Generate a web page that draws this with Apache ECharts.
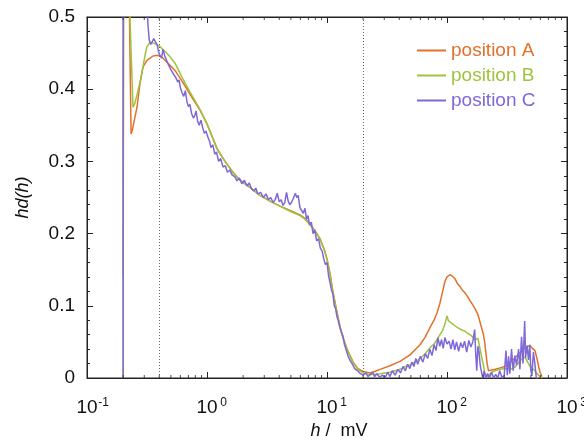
<!DOCTYPE html>
<html>
<head>
<meta charset="utf-8">
<script src="https://cdn.jsdelivr.net/npm/echarts@6/dist/echarts.min.js"></script>
<style>html,body{margin:0;padding:0;background:#fff}#c{width:584px;height:441px}</style>
</head>
<body>
<div id="c"></div>
<script>
const seriesNames = ['position A', 'position B', 'position C'];
const seriesColors = ['#E2712C', '#9DC43E', '#7F68D8'];
const refLines = [0.4, 20];

const posA = [
[0.2,0.14],[0.203,0.85],[0.218,0.85],[0.226,0.5],[0.233,0.338],[0.24,0.345],[0.25,0.36],[0.261,0.375],[0.2765,0.408],[0.293,0.431],[0.316,0.44],[0.335,0.443],[0.355,0.446],[0.39,0.447],[0.406,0.446],[0.43,0.443],[0.473,0.436],[0.492,0.433],[0.541,0.426],[0.631,0.409],[0.722,0.393],[0.874,0.371],[1.0,0.352],[1.212,0.318],[1.413,0.3],[1.647,0.285],[1.884,0.274],[2.28,0.264],[2.765,0.253],[3.35,0.245],[4.06,0.238],[4.92,0.232],[5.96,0.226],[6.56,0.221],[7.22,0.213],[7.94,0.204],[8.74,0.193],[9.5,0.178],[10,0.165],[10.6,0.145],[11.2,0.12],[12.1,0.092],[12.8,0.072],[13.6,0.056],[14.7,0.04],[16.5,0.022],[18.1,0.013],[20,0.009],[22.8,0.007],[25,0.009],[27.7,0.012],[33.5,0.017],[40.6,0.023],[49.2,0.032],[59.6,0.046],[66,0.057],[72.2,0.07],[78,0.08],[82.5,0.09],[87.4,0.104],[92,0.12],[96.2,0.134],[100,0.14],[106,0.143],[111,0.141],[117,0.137],[122,0.131],[128,0.127],[134,0.122],[141,0.118],[148,0.113],[155.5,0.107],[163,0.102],[171,0.096],[181,0.088],[188,0.078],[200,0.062],[206,0.05],[211,0.034],[216,0.02],[222,0.01],[230,0.008],[251,0.012],[277,0.014],[304,0.016],[335,0.021],[369,0.028],[406,0.035],[447,0.042],[470,0.044],[492,0.045],[515,0.041],[541,0.038],[562,0.027],[580,0.016],[596,0.008],[620,0.002]
];
const posB = [
[0.2,0],[0.202,0.85],[0.22,0.85],[0.228,0.5],[0.2416,0.375],[0.25,0.38],[0.261,0.392],[0.2765,0.41],[0.293,0.431],[0.305,0.448],[0.316,0.459],[0.335,0.465],[0.355,0.464],[0.38,0.462],[0.406,0.459],[0.43,0.455],[0.473,0.448],[0.492,0.445],[0.541,0.436],[0.631,0.414],[0.722,0.396],[0.874,0.372],[1.0,0.352],[1.212,0.317],[1.413,0.3],[1.647,0.284],[1.884,0.274],[2.28,0.264],[2.765,0.253],[3.35,0.245],[4.06,0.238],[4.92,0.231],[5.96,0.225],[6.56,0.22],[7.22,0.212],[7.94,0.203],[8.74,0.192],[9.5,0.177],[10,0.164],[10.6,0.144],[11.2,0.118],[12.1,0.09],[12.8,0.071],[13.6,0.055],[14.7,0.039],[16.5,0.021],[18.1,0.012],[20,0.007],[22.8,0.005],[25,0.005],[27.7,0.006],[33.5,0.008],[40.6,0.012],[45,0.016],[49.2,0.018],[54,0.022],[59.6,0.027],[66,0.034],[72.2,0.042],[78,0.047],[82.5,0.053],[87.4,0.06],[92,0.066],[96.2,0.075],[100,0.086],[103,0.079],[106,0.077],[111,0.075],[114,0.077],[117,0.072],[122,0.07],[125,0.071],[128,0.068],[134,0.066],[141,0.065],[148,0.062],[155.5,0.06],[163,0.057],[171,0.053],[176,0.052],[181,0.055],[186,0.045],[194,0.03],[200,0.02],[206,0.008],[211,0.003],[220,0.002],[235,0.008],[251,0.01],[277,0.012],[304,0.013],[335,0.012],[369,0.015],[406,0.024],[430,0.027],[447,0.029],[470,0.022],[492,0.016],[515,0.013],[541,0.01],[562,0.006],[596,0.002],[620,0]
];
const posC = [
[0.2,0],[0.2005,0.9],[0.3,0.9],[0.315,0.52],[0.322,0.49],[0.33,0.468],[0.34,0.462],[0.35,0.466],[0.36,0.47],[0.37,0.468],[0.385,0.461],[0.395,0.452],[0.405,0.447],[0.418,0.443],[0.43,0.455],[0.445,0.446],[0.46,0.44],[0.48,0.433],[0.5,0.427],[0.515,0.429],[0.53,0.42],[0.55,0.416],[0.57,0.41],[0.585,0.413],[0.6,0.402],[0.62,0.395],[0.64,0.39],[0.66,0.398],[0.68,0.383],[0.7,0.376],[0.72,0.379],[0.745,0.366],[0.77,0.36],[0.79,0.363],[0.81,0.37],[0.835,0.356],[0.86,0.35],[0.89,0.357],[0.92,0.347],[0.95,0.339],[0.98,0.342],[1.01,0.335],[1.05,0.328],[1.08,0.319],[1.12,0.323],[1.16,0.31],[1.2,0.313],[1.25,0.3],[1.3,0.304],[1.36,0.292],[1.42,0.294],[1.48,0.285],[1.55,0.288],[1.62,0.281],[1.7,0.279],[1.78,0.273],[1.86,0.277],[1.95,0.269],[2.05,0.274],[2.15,0.266],[2.25,0.27],[2.35,0.262],[2.45,0.259],[2.55,0.263],[2.65,0.255],[2.8,0.257],[2.95,0.25],[3.1,0.255],[3.25,0.247],[3.4,0.25],[3.55,0.243],[3.7,0.247],[3.85,0.256],[4.0,0.244],[4.15,0.247],[4.3,0.239],[4.45,0.243],[4.6,0.257],[4.75,0.245],[4.9,0.24],[5.05,0.243],[5.25,0.249],[5.45,0.256],[5.6,0.25],[5.75,0.253],[5.95,0.236],[6.15,0.232],[6.35,0.228],[6.55,0.235],[6.75,0.22],[6.95,0.225],[7.15,0.212],[7.4,0.216],[7.65,0.2],[7.9,0.205],[8.2,0.19],[8.5,0.193],[8.8,0.18],[9.1,0.176],[9.4,0.165],[9.7,0.157],[10.0,0.16],[10.3,0.142],[10.6,0.132],[10.9,0.122],[11.2,0.116],[11.5,0.1],[11.8,0.096],[12.1,0.085],[12.4,0.08],[12.8,0.07],[13.2,0.063],[13.6,0.058],[14.0,0.046],[14.5,0.038],[15.0,0.03],[15.6,0.024],[16.3,0.019],[17,0.013],[18,0.01],[19,0.006],[20,0.004],[21,0.007],[22,0.002],[23,0.005],[24,0.008],[25,0.002],[26,0.006],[27.5,0.001],[29,0.004],[30.5,0],[32,0.008],[33.5,0.002],[35,0.01],[37,0.004],[39,0.012],[41,0.007],[43,0.016],[45,0.01],[47,0.019],[49,0.013],[51,0.022],[53,0.016],[55,0.027],[57,0.019],[60,0.03],[63,0.022],[66,0.034],[69,0.027],[72,0.04],[75,0.031],[78,0.046],[81,0.038],[84,0.056],[87,0.044],[90,0.053],[93,0.041],[96,0.056],[100,0.047],[104,0.051],[108,0.04],[112,0.053],[116,0.039],[120,0.05],[125,0.037],[130,0.049],[135,0.042],[140,0.051],[146,0.036],[152,0.052],[158,0.043],[164,0.05],[170,0.067],[174,0.03],[177,0.01],[181,0.044],[185,0.036],[189,0.018],[194,0.008],[199,0],[204,0.01],[210,0],[218,0.006],[226,0],[235,0.008],[245,0],[255,0.005],[265,0],[275,0.01],[288,0],[300,0.004],[310,0.038],[318,0.004],[326,0.03],[334,0.006],[345,0.04],[356,0.01],[368,0.031],[380,0.018],[395,0.04],[405,0.012],[418,0.057],[430,0.02],[444,0.079],[452,0.028],[465,0.045],[478,0.025],[490,0.046],[500,0.01],[510,0.003],[525,0.036],[540,0.02],[555,0],[570,0]
];

// minor tick positions of the log axis (2..9 per decade)
const minorTickValues = [];
for (let n = -1; n <= 2; n++) for (let k = 2; k <= 9; k++) minorTickValues.push(+(k * Math.pow(10, n)).toPrecision(6));

const FONT = 'Liberation Sans';
const AXC = '#222';
const chart = echarts.init(document.getElementById('c'), null, {renderer: 'canvas'});

function xAxisBase() {
  return {
    type: 'log', logBase: 10, min: 0.1, max: 1000,
    axisLine: {show: true, onZero: false, lineStyle: {color: AXC, width: 1}},
    axisTick: {show: true, inside: true, length: 6, lineStyle: {color: AXC, width: 1}},
    splitLine: {show: false}
  };
}
function yAxisBase() {
  return {
    type: 'value', min: 0, max: 0.5, interval: 0.1,
    axisLine: {show: true, onZero: false, lineStyle: {color: AXC, width: 1}},
    axisTick: {show: true, inside: true, length: 6, lineStyle: {color: AXC, width: 1}},
    minorTick: {show: true, splitNumber: 5, length: 3, lineStyle: {color: AXC, width: 1}},
    splitLine: {show: false}
  };
}

const lineSeries = [posA, posB, posC].map((d, i) => ({
  name: seriesNames[i], type: 'line', data: d, showSymbol: false, symbol: 'none',
  xAxisIndex: 0, yAxisIndex: 0,
  lineStyle: {color: seriesColors[i], width: 1.5}, itemStyle: {color: seriesColors[i]},
  z: 3 + i,
  markLine: i === 0 ? {
    silent: true, symbol: 'none', label: {show: false},
    lineStyle: {color: '#666', type: [1, 2], width: 1},
    data: refLines.map(v => ({xAxis: v}))
  } : undefined
}));

chart.setOption({
  animation: false,
  grid: {left: 87, right: 17, top: 17, bottom: 63, containLabel: false, outerBoundsMode: 'none',
         show: true, borderColor: AXC, borderWidth: 1, backgroundColor: 'transparent'},
  legend: {
    orient: 'vertical', left: 412, top: 33, itemWidth: 29, itemHeight: 2, itemGap: 0,
    icon: 'rect',
    textStyle: {fontFamily: FONT, fontSize: 19, lineHeight: 25},
    data: seriesNames.map((n, i) => ({name: n, textStyle: {color: seriesColors[i]}}))
  },
  xAxis: [
    Object.assign(xAxisBase(), {
      position: 'bottom',
      name: '{i|h} /  mV', nameLocation: 'middle', nameGap: 41,
      nameTextStyle: {fontFamily: FONT, fontSize: 18, color: '#111', padding: [0, 0, 0, 24],
        rich: {i: {fontFamily: FONT, fontSize: 18, fontStyle: 'italic', color: '#111'}}},
      axisLabel: {
        margin: 19, color: '#111',
        formatter: v => '{p|}{b|10}{s|' + Math.round(Math.log10(v)) + '}',
        rich: {
          p: {width: 12},
          b: {fontFamily: FONT, fontSize: 19, color: '#111'},
          s: {fontFamily: FONT, fontSize: 12, color: '#111', width: 12, align: 'left', padding: [0, 0, 9, 0]}
        }
      }
    }),
    Object.assign(xAxisBase(), {position: 'top', axisLabel: {show: false}})
  ],
  yAxis: [
    Object.assign(yAxisBase(), {
      position: 'left',
      name: 'hd(h)', nameLocation: 'middle', nameGap: 55,
      nameTextStyle: {fontFamily: FONT, fontSize: 18, fontStyle: 'italic', color: '#111'},
      axisLabel: {margin: 12, fontFamily: FONT, fontSize: 19, color: '#111',
        formatter: v => String(+v.toFixed(1))}
    }),
    Object.assign(yAxisBase(), {position: 'right', axisLabel: {show: false}})
  ],
  series: lineSeries.concat([
    {type: 'scatter', silent: true, clip: false, symbol: 'rect', symbolSize: [1, 3], symbolOffset: [0, -1.5],
     xAxisIndex: 0, yAxisIndex: 0,
     itemStyle: {color: AXC}, data: minorTickValues.map(v => [v, 0]), z: 10},
    {type: 'scatter', silent: true, clip: false, symbol: 'rect', symbolSize: [1, 3], symbolOffset: [0, 1.5],
     xAxisIndex: 1, yAxisIndex: 1,
     itemStyle: {color: AXC}, data: minorTickValues.map(v => [v, 0.5]), z: 10}
  ])
});
</script>
</body>
</html>
